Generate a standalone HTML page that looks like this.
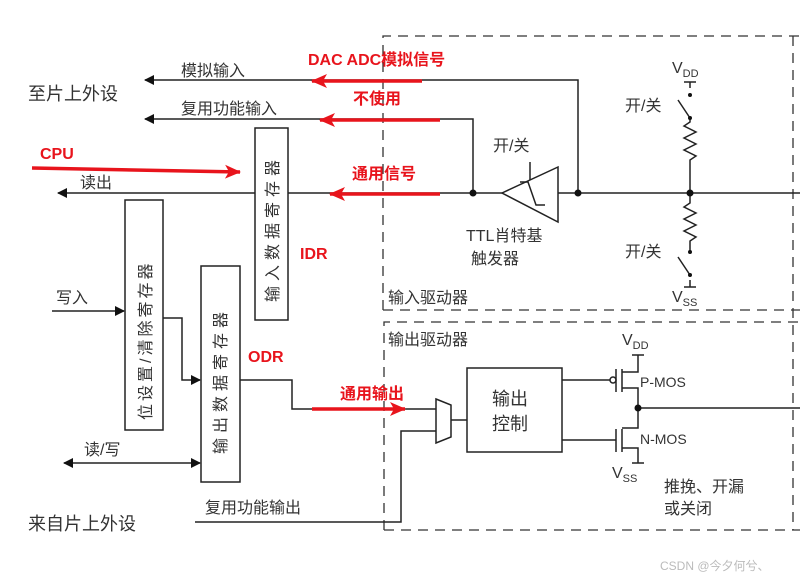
<!DOCTYPE html>
<html><head><meta charset="utf-8"><style>
html,body{margin:0;padding:0;background:#fff}
svg{display:block}
text{font-family:"Liberation Sans","Noto Sans CJK SC",sans-serif}
.g{fill:#333;font-size:16px}
.r{fill:#e8141c;font-size:16px;font-weight:bold}
</style></head><body>
<svg width="800" height="580" viewBox="0 0 800 580" xmlns="http://www.w3.org/2000/svg">
<defs>
<marker id="a" markerWidth="10" markerHeight="10" refX="9" refY="5" orient="auto" markerUnits="userSpaceOnUse"><path d="M0,0 L10,5 L0,10 z" fill="#111"/></marker>
<marker id="as" markerWidth="10" markerHeight="10" refX="1" refY="5" orient="auto" markerUnits="userSpaceOnUse"><path d="M10,0 L0,5 L10,10 z" fill="#111"/></marker>
<marker id="ra" markerWidth="16" markerHeight="14" refX="15" refY="7" orient="auto" markerUnits="userSpaceOnUse"><path d="M0,0 L16,7 L0,14 L4,7 z" fill="#e8141c"/></marker>
</defs>
<g fill="none" stroke="#333" stroke-width="1.3" stroke-dasharray="10,7">
<path d="M383,310 V36 H800"/>
<path d="M383,310 H800"/>
<path d="M384,530 V322 H800"/>
<path d="M384,530 H800"/>
<path d="M793,36 V530"/>
</g>
<g fill="none" stroke="#222" stroke-width="1.5">
<path d="M578,193 V80 H145" marker-end="url(#a)"/>
<path d="M473,193 V119 H145" marker-end="url(#a)"/>
<path d="M800,193 H58" marker-end="url(#a)"/>
<rect x="255" y="128" width="33" height="192" fill="#fff"/>
<rect x="125" y="200" width="38" height="230"/>
<rect x="201" y="266" width="39" height="216"/>
<path d="M52,311 H124" marker-end="url(#a)"/>
<path d="M163,318 H182 V380 H200" marker-end="url(#a)"/>
<path d="M64,463 H200" marker-end="url(#a)" marker-start="url(#as)"/>
<path d="M240,380 H292 V409 H436"/>
<path d="M195,522 H401 V431 H436"/>
<path d="M436,399 L451,405 V437 L436,443 Z"/>
<path d="M451,420 H467"/>
<rect x="467" y="368" width="95" height="84"/>
<path d="M502,193 L558,167 V222 Z" fill="#fff"/>
<path d="M530,162 V180"/>
<path d="M520,182 H528 L536,205 H545"/>
<path d="M562,380 H610"/>
<circle cx="613" cy="380" r="3" fill="#fff"/>
<path d="M616,369 V392 M622,369 V392 M622,372 H638 V355 M632,355 H644 M622,388 H638 V428 H622 M562,440 H616 M616,429 V452 M622,429 V452 M622,448 H638 V463 M632,463 H644 M638,408 H800"/>
<path d="M690,88 V82 M684,82 H696"/>
<path d="M690,95 L690,96 M678,100 L690,118 M690,118 V122 L684,126 L696,132 L684,138 L696,144 L684,150 L696,156 L690,160 V193 V203 L684,207 L696,213 L684,219 L696,225 L684,231 L696,237 L690,241 V252 M678,257 L690,275 M690,280 V287 M684,287 H696"/>
</g>
<g fill="#111">
<circle cx="690" cy="95" r="2"/><circle cx="690" cy="118" r="2"/>
<circle cx="690" cy="252" r="2"/><circle cx="690" cy="275" r="2"/>
<circle cx="578" cy="193" r="3.5"/><circle cx="473" cy="193" r="3.5"/>
<circle cx="690" cy="193" r="3.5"/><circle cx="638" cy="408" r="3.5"/>
</g>
<text class="g" x="28" y="100" style="font-size:18px">至片上外设</text>
<text class="g" x="181" y="76">模拟输入</text>
<text class="g" x="181" y="114">复用功能输入</text>
<text class="g" x="80" y="188">读出</text>
<text class="g" x="56" y="303">写入</text>
<text class="g" x="84" y="455">读/写</text>
<text class="g" x="205" y="513">复用功能输出</text>
<text class="g" x="28" y="530" style="font-size:18px">来自片上外设</text>
<text class="g" x="493" y="151">开/关</text>
<text class="g" x="466" y="241">TTL肖特基</text>
<text class="g" x="471" y="264">触发器</text>
<text class="g" x="388" y="303">输入驱动器</text>
<text class="g" x="388" y="345">输出驱动器</text>
<text class="g" x="492" y="405" style="font-size:18px">输出</text>
<text class="g" x="492" y="430" style="font-size:18px">控制</text>
<text class="g" x="625" y="111">开/关</text>
<text class="g" x="625" y="257">开/关</text>
<text class="g" x="672" y="73">V<tspan font-size="11" dy="4">DD</tspan></text>
<text class="g" x="672" y="302">V<tspan font-size="11" dy="4">SS</tspan></text>
<text class="g" x="622" y="345">V<tspan font-size="11" dy="4">DD</tspan></text>
<text class="g" x="612" y="478">V<tspan font-size="11" dy="4">SS</tspan></text>
<text class="g" x="640" y="387" style="font-size:14px">P-MOS</text>
<text class="g" x="640" y="444" style="font-size:14px">N-MOS</text>
<text class="g" x="664" y="492">推挽、开漏</text>
<text class="g" x="664" y="514">或关闭</text>
<text x="660" y="570" style="font-size:12px;fill:#bbb">CSDN @今夕何兮、</text>
<g class="g" style="font-size:16px;letter-spacing:5px">
<text transform="translate(278,302) rotate(-90)">输入数据寄存器</text>
<text transform="translate(151,420) rotate(-90)" style="letter-spacing:3px">位设置/清除寄存器</text>
<text transform="translate(226,454) rotate(-90)">输出数据寄存器</text>
</g>
<text class="r" x="308" y="65">DAC ADC模拟信号</text>
<text class="r" x="353" y="104">不使用</text>
<text class="r" x="40" y="159">CPU</text>
<text class="r" x="352" y="179">通用信号</text>
<text class="r" x="300" y="259">IDR</text>
<text class="r" x="248" y="362">ODR</text>
<text class="r" x="340" y="399">通用输出</text>
<g stroke="#e8141c" stroke-width="3.5" fill="none">
<path d="M422,81 H312" marker-end="url(#ra)"/>
<path d="M440,120 H320" marker-end="url(#ra)"/>
<path d="M32,168 L240,172" marker-end="url(#ra)"/>
<path d="M440,194 H330" marker-end="url(#ra)"/>
<path d="M312,409 H405" marker-end="url(#ra)"/>
</g>
</svg>
</body></html>
